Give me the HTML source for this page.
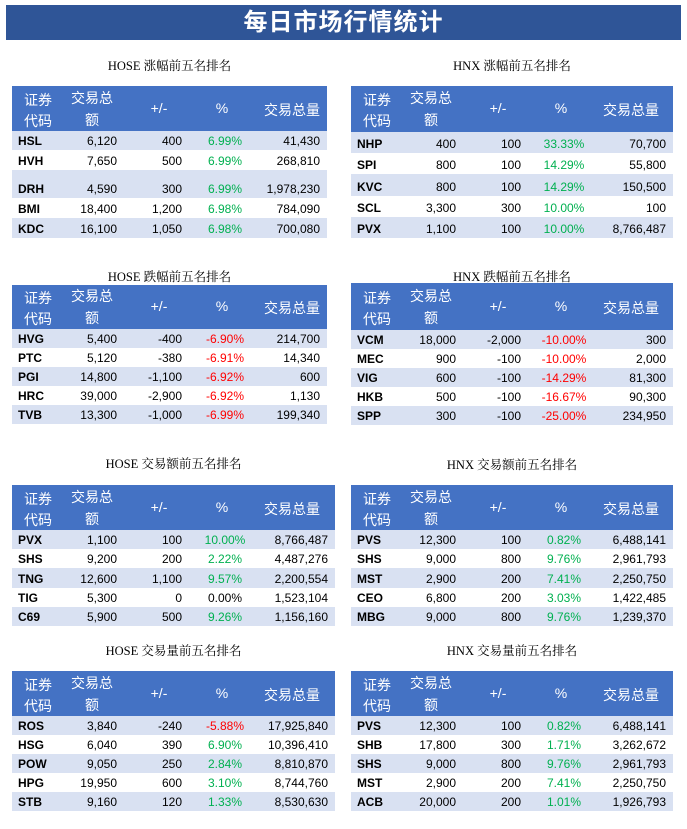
<!DOCTYPE html>
<html><head><meta charset="utf-8">
<style>
body{margin:0;width:687px;height:829px;background:#fff;position:relative;overflow:hidden;font-family:"Liberation Sans","Noto Sans CJK SC",sans-serif}
.abs{position:absolute}
#bar{left:6px;top:5px;width:675px;height:35px;background:#2F5597;color:#fff;font-size:24px;font-weight:bold;text-align:center;line-height:35px;font-family:"Liberation Sans","Noto Sans CJK SC",sans-serif;letter-spacing:1px}
.ttl{font-family:"Liberation Serif","Noto Serif CJK SC",serif;font-size:12.5px;color:#000;text-align:center}
.hdr{background:#4472C4;color:#fff;font-size:14px}
.row{font-size:12px;color:#000}
.st{background:#D9E1F2}
.c{position:absolute;white-space:nowrap}
.g{color:#00B050}.r{color:#FF0000}
</style></head><body>
<div id="bar" class="abs">每日市场行情统计</div>
<script>
const hoseUpRows=[["HSL","6,120","400","6.99%","41,430"],["HVH","7,650","500","6.99%","268,810"],["DRH","4,590","300","6.99%","1,978,230"],["BMI","18,400","1,200","6.98%","784,090"],["KDC","16,100","1,050","6.98%","700,080"]];
const hnxUpRows=[["NHP","400","100","33.33%","70,700"],["SPI","800","100","14.29%","55,800"],["KVC","800","100","14.29%","150,500"],["SCL","3,300","300","10.00%","100"],["PVX","1,100","100","10.00%","8,766,487"]];
const hoseDownRows=[["HVG","5,400","-400","-6.90%","214,700"],["PTC","5,120","-380","-6.91%","14,340"],["PGI","14,800","-1,100","-6.92%","600"],["HRC","39,000","-2,900","-6.92%","1,130"],["TVB","13,300","-1,000","-6.99%","199,340"]];
const hnxDownRows=[["VCM","18,000","-2,000","-10.00%","300"],["MEC","900","-100","-10.00%","2,000"],["VIG","600","-100","-14.29%","81,300"],["HKB","500","-100","-16.67%","90,300"],["SPP","300","-100","-25.00%","234,950"]];
const hoseValRows=[["PVX","1,100","100","10.00%","8,766,487"],["SHS","9,200","200","2.22%","4,487,276"],["TNG","12,600","1,100","9.57%","2,200,554"],["TIG","5,300","0","0.00%","1,523,104"],["C69","5,900","500","9.26%","1,156,160"]];
const hnxValRows=[["PVS","12,300","100","0.82%","6,488,141"],["SHS","9,000","800","9.76%","2,961,793"],["MST","2,900","200","7.41%","2,250,750"],["CEO","6,800","200","3.03%","1,422,485"],["MBG","9,000","800","9.76%","1,239,370"]];
const hoseVolRows=[["ROS","3,840","-240","-5.88%","17,925,840"],["HSG","6,040","390","6.90%","10,396,410"],["POW","9,050","250","2.84%","8,810,870"],["HPG","19,950","600","3.10%","8,744,760"],["STB","9,160","120","1.33%","8,530,630"]];
const hnxVolRows=[["PVS","12,300","100","0.82%","6,488,141"],["SHB","17,800","300","1.71%","3,262,672"],["SHS","9,000","800","9.76%","2,961,793"],["MST","2,900","200","7.41%","2,250,750"],["ACB","20,000","200","1.01%","1,926,793"]];

function mk(cls,l,t,w,h,txt){const d=document.createElement('div');d.className='abs '+cls;d.style.left=l+'px';d.style.top=t+'px';if(w!=null)d.style.width=w+'px';if(h!=null)d.style.height=h+'px';if(txt!=null)d.textContent=txt;document.body.appendChild(d);return d;}
function cell(parent,txt,x,y,align,cls){const s=document.createElement('span');s.className='c '+(cls||'');s.textContent=txt;s.style.top=y+'px';
if(align==='r'){s.style.right=x+'px';}else if(align==='c'){s.style.left=(x-50)+'px';s.style.width='100px';s.style.textAlign='center';}else{s.style.left=x+'px';}
parent.appendChild(s);return s;}
function table(name,title,titleY,x,w,hy,hh,rowH,rows){
 const t=mk('ttl',x,titleY,w,16,title);
 
 
 const h=mk('hdr',x,hy,w,hh);
 
 
 const m=hh/2;
 cell(h,'证券',26,m-19,'c');cell(h,'代码',26,m+2,'c');
 cell(h,'交易总',80,m-21,'c');cell(h,'额',80,m+1,'c');
 cell(h,'+/-',147,m-9,'c');cell(h,'%',210,m-9,'c');cell(h,'交易总量',280,m-9,'c');
 let y=hy+hh;
 rows.forEach((r,i)=>{
  const rh=rowH[i];
  const d=mk('row'+(i%2===0?' st':''),x,y,w,rh);
  
  
  const ty=rh-16;
  const b=cell(d,r[0],6,ty,'l');b.style.fontWeight='bold';
  cell(d,r[1],w-105,ty,'r');
  cell(d,r[2],w-170,ty,'r');
  cell(d,r[3],w<330?213:217,ty,'c',r[3].startsWith('-')?'r':(r[3]==='0.00%'?'':'g'));
  cell(d,r[4],7,ty,'r');
  y+=rh;
 });
}
table('hose-gainers','HOSE 涨幅前五名排名',56,12,315,86,45,[19,20,28,20,20],hoseUpRows);
table('hnx-gainers','HNX 涨幅前五名排名',56,351,322,86,46,[21,21,22,21,21],hnxUpRows);
table('hose-losers','HOSE 跌幅前五名排名',267,12,315,285,44,[19,19,19,19,19],hoseDownRows);
table('hnx-losers','HNX 跌幅前五名排名',267,351,322,283,47,[19,19,19,19,19],hnxDownRows);
table('hose-value','HOSE 交易额前五名排名',454,12,323,485,45,[19,19,20,19,19],hoseValRows);
table('hnx-value','HNX 交易额前五名排名',455,351,322,485,45,[19,19,20,19,19],hnxValRows);
table('hose-volume','HOSE 交易量前五名排名',641,12,323,671,45,[19,19,19,19,19],hoseVolRows);
table('hnx-volume','HNX 交易量前五名排名',641,351,322,671,45,[19,19,19,19,19],hnxVolRows);
</script>
</body></html>
